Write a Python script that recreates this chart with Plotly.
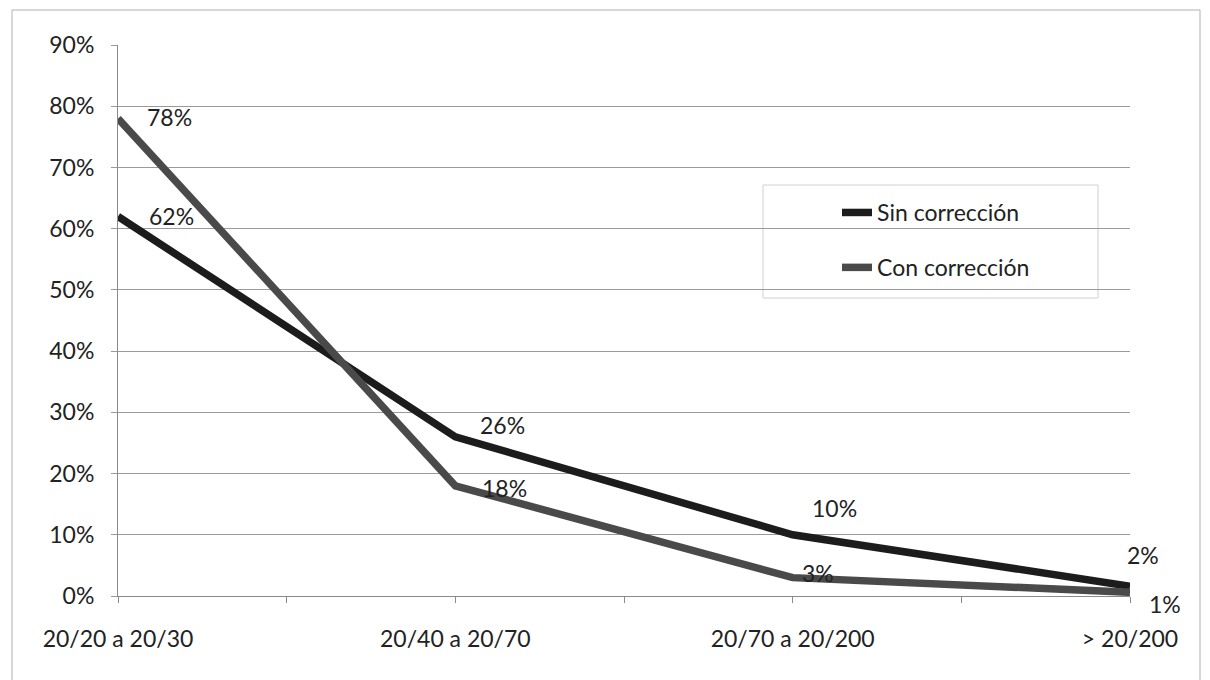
import plotly.graph_objects as go

categories = ["20/20 a 20/30", "20/40 a 20/70", "20/70 a 20/200", "> 20/200"]
sin_correccion = [0.62, 0.26, 0.10, 0.016]
con_correccion = [0.78, 0.18, 0.03, 0.006]
y_ticks = [0, 0.1, 0.2, 0.3, 0.4, 0.5, 0.6, 0.7, 0.8, 0.9]

# label offsets (pixels) for the data labels of each series
sin_label_shift = [(29, 0), (23, 12), (17, 27), (-5, 31)]
con_label_shift = [(27, 1), (25, -2), (7, 5), (17, -12)]

xs = list(range(len(categories)))
FONT = "Lato"
FS = 23
TXT = "#222222"

fig = go.Figure()
fig.add_trace(go.Scatter(
    x=xs, y=sin_correccion, name="Sin corrección", mode="lines",
    line=dict(color="#1c1c1c", width=7.5),
    legendgroup="a", cliponaxis=False,
))
fig.add_trace(go.Scatter(
    x=xs, y=con_correccion, name="Con corrección", mode="lines",
    line=dict(color="#4a4a4a", width=7.5),
    legendgroup="b", cliponaxis=False,
))

annotations = []
for vals, shifts in ((sin_correccion, sin_label_shift), (con_correccion, con_label_shift)):
    for x, v, (dx, dy) in zip(xs, vals, shifts):
        annotations.append(dict(
            x=x, y=v, xref="x", yref="y", text=f"{v:.0%}", showarrow=False,
            xanchor="left", yanchor="middle", xshift=dx, yshift=dy,
            font=dict(family=FONT, size=FS, color=TXT),
        ))

fig.update_layout(
    width=1210, height=680,
    margin=dict(l=118, r=80, t=45, b=84),
    paper_bgcolor="white", plot_bgcolor="white",
    font=dict(family=FONT, size=FS, color=TXT),
    showlegend=True,
    legend=dict(
        x=0.7105, y=0.735, xanchor="left", yanchor="top",
        bgcolor="rgba(0,0,0,0)", borderwidth=0,
        font=dict(family=FONT, size=FS, color=TXT),
        tracegroupgap=22, traceorder="grouped",
    ),
    annotations=annotations,
    xaxis=dict(
        range=[0, 3], tickvals=xs, ticktext=categories,
        showgrid=False, zeroline=False,
        showline=True, linecolor="#8a8a8a", linewidth=1,
        ticks="outside", ticklen=6, tickcolor="#8a8a8a",
        minor=dict(ticks="outside", ticklen=6, tickcolor="#8a8a8a", tickvals=[0.5, 1.5, 2.5]),
        ticklabelstandoff=16,
        tickfont=dict(family=FONT, size=FS, color=TXT),
    ),
    yaxis=dict(
        range=[0, 0.9], tickvals=y_ticks, tickformat=".0%",
        showgrid=True, gridcolor="#9a9a9a", gridwidth=1,
        zeroline=False,
        showline=True, linecolor="#8a8a8a", linewidth=1,
        ticks="outside", ticklen=6, tickcolor="#9a9a9a",
        ticklabelstandoff=12,
        tickfont=dict(family=FONT, size=FS, color=TXT),
    ),
    shapes=[
        dict(
            type="rect", xref="paper", yref="paper",
            x0=(12 - 118) / 1012, x1=(1200 - 118) / 1012,
            y0=(596 - 690) / 551, y1=(596 - 10) / 551,
            line=dict(color="#b0b0b0", width=1), layer="below",
        ),
        dict(
            type="rect", xref="paper", yref="paper",
            x0=(763 - 118) / 1012, x1=(1098 - 118) / 1012,
            y0=(596 - 298) / 551, y1=(596 - 185) / 551,
            line=dict(color="#d0d0d0", width=1), layer="below",
        ),
    ],
)

fig.write_html("out.html")
